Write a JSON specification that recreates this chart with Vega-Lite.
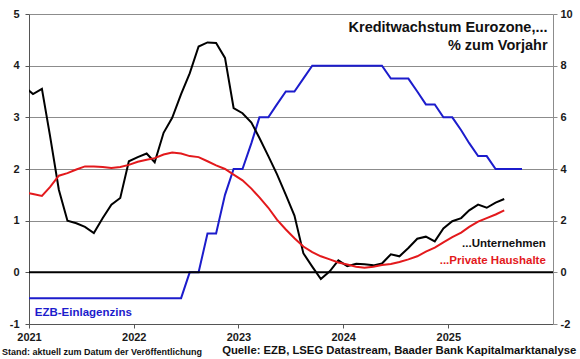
{
  "$schema": "https://vega.github.io/schema/vega-lite/v6.json",
  "width": 524,
  "height": 310,
  "autosize": {"type": "none"},
  "padding": {"left": 29, "top": 14, "right": 27, "bottom": 35},
  "background": "white",
  "config": {
    "view": {"stroke": null},
    "font": "Liberation Sans",
    "axis": {"labelFont": "Liberation Sans", "labelFontWeight": "bold", "labelFontSize": 11, "labelColor": "#1a1a1a", "title": null}
  },
  "datasets": {
    "one": [{}],
    "rate": [
      {"date": "2020-12-15", "value": -0.5},
      {"date": "2021-01-15", "value": -0.5}, {"date": "2021-02-15", "value": -0.5}, {"date": "2021-03-15", "value": -0.5},
      {"date": "2021-04-15", "value": -0.5}, {"date": "2021-05-15", "value": -0.5}, {"date": "2021-06-15", "value": -0.5},
      {"date": "2021-07-15", "value": -0.5}, {"date": "2021-08-15", "value": -0.5}, {"date": "2021-09-15", "value": -0.5},
      {"date": "2021-10-15", "value": -0.5}, {"date": "2021-11-15", "value": -0.5}, {"date": "2021-12-15", "value": -0.5},
      {"date": "2022-01-15", "value": -0.5}, {"date": "2022-02-15", "value": -0.5}, {"date": "2022-03-15", "value": -0.5},
      {"date": "2022-04-15", "value": -0.5}, {"date": "2022-05-15", "value": -0.5}, {"date": "2022-06-15", "value": -0.5},
      {"date": "2022-07-15", "value": 0}, {"date": "2022-08-15", "value": 0}, {"date": "2022-09-15", "value": 0.75},
      {"date": "2022-10-15", "value": 0.75}, {"date": "2022-11-15", "value": 1.5}, {"date": "2022-12-15", "value": 2.0},
      {"date": "2023-01-15", "value": 2.0}, {"date": "2023-02-15", "value": 2.5}, {"date": "2023-03-15", "value": 3.0},
      {"date": "2023-04-15", "value": 3.0}, {"date": "2023-05-15", "value": 3.25}, {"date": "2023-06-15", "value": 3.5},
      {"date": "2023-07-15", "value": 3.5}, {"date": "2023-08-15", "value": 3.75}, {"date": "2023-09-15", "value": 4.0},
      {"date": "2023-10-15", "value": 4.0}, {"date": "2023-11-15", "value": 4.0}, {"date": "2023-12-15", "value": 4.0},
      {"date": "2024-01-15", "value": 4.0}, {"date": "2024-02-15", "value": 4.0}, {"date": "2024-03-15", "value": 4.0},
      {"date": "2024-04-15", "value": 4.0}, {"date": "2024-05-15", "value": 4.0}, {"date": "2024-06-15", "value": 3.75},
      {"date": "2024-07-15", "value": 3.75}, {"date": "2024-08-15", "value": 3.75}, {"date": "2024-09-15", "value": 3.5},
      {"date": "2024-10-15", "value": 3.25}, {"date": "2024-11-15", "value": 3.25}, {"date": "2024-12-15", "value": 3.0},
      {"date": "2025-01-15", "value": 3.0}, {"date": "2025-02-15", "value": 2.75}, {"date": "2025-03-15", "value": 2.5},
      {"date": "2025-04-15", "value": 2.25}, {"date": "2025-05-15", "value": 2.25}, {"date": "2025-06-15", "value": 2.0},
      {"date": "2025-07-15", "value": 2.0}, {"date": "2025-08-15", "value": 2.0}, {"date": "2025-09-15", "value": 2.0}
    ],
    "credit": [
      {"date": "2020-12-15", "series": "Unternehmen", "value": 7.2},
      {"date": "2021-01-15", "series": "Unternehmen", "value": 6.9},
      {"date": "2021-02-15", "series": "Unternehmen", "value": 7.1},
      {"date": "2021-03-15", "series": "Unternehmen", "value": 5.3},
      {"date": "2021-04-15", "series": "Unternehmen", "value": 3.2},
      {"date": "2021-05-15", "series": "Unternehmen", "value": 2.0},
      {"date": "2021-06-15", "series": "Unternehmen", "value": 1.9},
      {"date": "2021-07-15", "series": "Unternehmen", "value": 1.76},
      {"date": "2021-08-15", "series": "Unternehmen", "value": 1.52},
      {"date": "2021-09-15", "series": "Unternehmen", "value": 2.1},
      {"date": "2021-10-15", "series": "Unternehmen", "value": 2.62},
      {"date": "2021-11-15", "series": "Unternehmen", "value": 2.88},
      {"date": "2021-12-15", "series": "Unternehmen", "value": 4.3},
      {"date": "2022-01-15", "series": "Unternehmen", "value": 4.46},
      {"date": "2022-02-15", "series": "Unternehmen", "value": 4.6},
      {"date": "2022-03-15", "series": "Unternehmen", "value": 4.26},
      {"date": "2022-04-15", "series": "Unternehmen", "value": 5.4},
      {"date": "2022-05-15", "series": "Unternehmen", "value": 5.98},
      {"date": "2022-06-15", "series": "Unternehmen", "value": 6.9},
      {"date": "2022-07-15", "series": "Unternehmen", "value": 7.7},
      {"date": "2022-08-15", "series": "Unternehmen", "value": 8.74},
      {"date": "2022-09-15", "series": "Unternehmen", "value": 8.9},
      {"date": "2022-10-15", "series": "Unternehmen", "value": 8.88},
      {"date": "2022-11-15", "series": "Unternehmen", "value": 8.3},
      {"date": "2022-12-15", "series": "Unternehmen", "value": 6.36},
      {"date": "2023-01-15", "series": "Unternehmen", "value": 6.16},
      {"date": "2023-02-15", "series": "Unternehmen", "value": 5.8},
      {"date": "2023-03-15", "series": "Unternehmen", "value": 5.2},
      {"date": "2023-04-15", "series": "Unternehmen", "value": 4.5},
      {"date": "2023-05-15", "series": "Unternehmen", "value": 3.8},
      {"date": "2023-06-15", "series": "Unternehmen", "value": 3.0},
      {"date": "2023-07-15", "series": "Unternehmen", "value": 2.2},
      {"date": "2023-08-15", "series": "Unternehmen", "value": 0.74},
      {"date": "2023-09-15", "series": "Unternehmen", "value": 0.22},
      {"date": "2023-10-15", "series": "Unternehmen", "value": -0.26},
      {"date": "2023-11-15", "series": "Unternehmen", "value": 0.04},
      {"date": "2023-12-15", "series": "Unternehmen", "value": 0.46},
      {"date": "2024-01-15", "series": "Unternehmen", "value": 0.24},
      {"date": "2024-02-15", "series": "Unternehmen", "value": 0.33},
      {"date": "2024-03-15", "series": "Unternehmen", "value": 0.31},
      {"date": "2024-04-15", "series": "Unternehmen", "value": 0.27},
      {"date": "2024-05-15", "series": "Unternehmen", "value": 0.34},
      {"date": "2024-06-15", "series": "Unternehmen", "value": 0.7},
      {"date": "2024-07-15", "series": "Unternehmen", "value": 0.62},
      {"date": "2024-08-15", "series": "Unternehmen", "value": 0.94},
      {"date": "2024-09-15", "series": "Unternehmen", "value": 1.3},
      {"date": "2024-10-15", "series": "Unternehmen", "value": 1.38},
      {"date": "2024-11-15", "series": "Unternehmen", "value": 1.2},
      {"date": "2024-12-15", "series": "Unternehmen", "value": 1.7},
      {"date": "2025-01-15", "series": "Unternehmen", "value": 1.98},
      {"date": "2025-02-15", "series": "Unternehmen", "value": 2.1},
      {"date": "2025-03-15", "series": "Unternehmen", "value": 2.4},
      {"date": "2025-04-15", "series": "Unternehmen", "value": 2.62},
      {"date": "2025-05-15", "series": "Unternehmen", "value": 2.5},
      {"date": "2025-06-15", "series": "Unternehmen", "value": 2.7},
      {"date": "2025-07-15", "series": "Unternehmen", "value": 2.84},
      {"date": "2020-12-15", "series": "Private Haushalte", "value": 3.1},
      {"date": "2021-01-15", "series": "Private Haushalte", "value": 3.03},
      {"date": "2021-02-15", "series": "Private Haushalte", "value": 2.96},
      {"date": "2021-03-15", "series": "Private Haushalte", "value": 3.3},
      {"date": "2021-04-15", "series": "Private Haushalte", "value": 3.74},
      {"date": "2021-05-15", "series": "Private Haushalte", "value": 3.84},
      {"date": "2021-06-15", "series": "Private Haushalte", "value": 3.98},
      {"date": "2021-07-15", "series": "Private Haushalte", "value": 4.1},
      {"date": "2021-08-15", "series": "Private Haushalte", "value": 4.1},
      {"date": "2021-09-15", "series": "Private Haushalte", "value": 4.08},
      {"date": "2021-10-15", "series": "Private Haushalte", "value": 4.04},
      {"date": "2021-11-15", "series": "Private Haushalte", "value": 4.08},
      {"date": "2021-12-15", "series": "Private Haushalte", "value": 4.16},
      {"date": "2022-01-15", "series": "Private Haushalte", "value": 4.28},
      {"date": "2022-02-15", "series": "Private Haushalte", "value": 4.36},
      {"date": "2022-03-15", "series": "Private Haushalte", "value": 4.42},
      {"date": "2022-04-15", "series": "Private Haushalte", "value": 4.56},
      {"date": "2022-05-15", "series": "Private Haushalte", "value": 4.64},
      {"date": "2022-06-15", "series": "Private Haushalte", "value": 4.6},
      {"date": "2022-07-15", "series": "Private Haushalte", "value": 4.5},
      {"date": "2022-08-15", "series": "Private Haushalte", "value": 4.46},
      {"date": "2022-09-15", "series": "Private Haushalte", "value": 4.3},
      {"date": "2022-10-15", "series": "Private Haushalte", "value": 4.14},
      {"date": "2022-11-15", "series": "Private Haushalte", "value": 4.0},
      {"date": "2022-12-15", "series": "Private Haushalte", "value": 3.78},
      {"date": "2023-01-15", "series": "Private Haushalte", "value": 3.56},
      {"date": "2023-02-15", "series": "Private Haushalte", "value": 3.24},
      {"date": "2023-03-15", "series": "Private Haushalte", "value": 2.9},
      {"date": "2023-04-15", "series": "Private Haushalte", "value": 2.5},
      {"date": "2023-05-15", "series": "Private Haushalte", "value": 2.04},
      {"date": "2023-06-15", "series": "Private Haushalte", "value": 1.66},
      {"date": "2023-07-15", "series": "Private Haushalte", "value": 1.32},
      {"date": "2023-08-15", "series": "Private Haushalte", "value": 1.0},
      {"date": "2023-09-15", "series": "Private Haushalte", "value": 0.78},
      {"date": "2023-10-15", "series": "Private Haushalte", "value": 0.62},
      {"date": "2023-11-15", "series": "Private Haushalte", "value": 0.5},
      {"date": "2023-12-15", "series": "Private Haushalte", "value": 0.38},
      {"date": "2024-01-15", "series": "Private Haushalte", "value": 0.3},
      {"date": "2024-02-15", "series": "Private Haushalte", "value": 0.22},
      {"date": "2024-03-15", "series": "Private Haushalte", "value": 0.18},
      {"date": "2024-04-15", "series": "Private Haushalte", "value": 0.22},
      {"date": "2024-05-15", "series": "Private Haushalte", "value": 0.28},
      {"date": "2024-06-15", "series": "Private Haushalte", "value": 0.32},
      {"date": "2024-07-15", "series": "Private Haushalte", "value": 0.4},
      {"date": "2024-08-15", "series": "Private Haushalte", "value": 0.5},
      {"date": "2024-09-15", "series": "Private Haushalte", "value": 0.62},
      {"date": "2024-10-15", "series": "Private Haushalte", "value": 0.8},
      {"date": "2024-11-15", "series": "Private Haushalte", "value": 0.96},
      {"date": "2024-12-15", "series": "Private Haushalte", "value": 1.16},
      {"date": "2025-01-15", "series": "Private Haushalte", "value": 1.36},
      {"date": "2025-02-15", "series": "Private Haushalte", "value": 1.54},
      {"date": "2025-03-15", "series": "Private Haushalte", "value": 1.76},
      {"date": "2025-04-15", "series": "Private Haushalte", "value": 1.96},
      {"date": "2025-05-15", "series": "Private Haushalte", "value": 2.1},
      {"date": "2025-06-15", "series": "Private Haushalte", "value": 2.24},
      {"date": "2025-07-15", "series": "Private Haushalte", "value": 2.4}
    ]
  },
  "layer": [
    {
      "layer": [
        {
          "data": {"name": "rate"},
          "mark": {"type": "line", "color": "#1c1ccc", "strokeWidth": 2, "clip": true, "interpolate": "linear"},
          "encoding": {
            "x": {
              "field": "date", "type": "temporal",
              "scale": {"domain": [{"year": 2021, "month": 1, "date": 1}, {"year": 2026, "month": 1, "date": 1}]},
              "axis": {
                "values": [{"year": 2021, "month": 1, "date": 1}, {"year": 2022, "month": 1, "date": 1}, {"year": 2023, "month": 1, "date": 1}, {"year": 2024, "month": 1, "date": 1}, {"year": 2025, "month": 1, "date": 1}],
                "format": "%Y", "grid": false, "domainColor": "#555555", "tickColor": "#555555",
                "tickSize": 4, "labelPadding": 3, "labelFlush": false, "labelAlign": "center"
              }
            },
            "y": {
              "field": "value", "type": "quantitative",
              "scale": {"domain": [-1, 5], "nice": false, "zero": false},
              "axis": {
                "values": [-1, 0, 1, 2, 3, 4, 5], "labelExpr": "'' + datum.value",
                "grid": true, "gridColor": "#8c8c8c", "gridWidth": 1,
                "domainColor": "#555555", "tickColor": "#555555", "tickSize": 4, "labelPadding": 6
              }
            }
          }
        },
        {
          "data": {"name": "one"},
          "mark": {"type": "rule", "color": "#000000", "strokeWidth": 2},
          "encoding": {"y": {"datum": 0, "type": "quantitative"}}
        },
        {
          "data": {"name": "one"},
          "mark": {"type": "text", "text": "Kreditwachstum Eurozone,...", "align": "right", "baseline": "middle", "font": "Liberation Sans", "fontWeight": "bold", "fontSize": 14.5, "color": "#111111"},
          "encoding": {"x": {"datum": {"year": 2025, "month": 12, "date": 13}, "type": "temporal"}, "y": {"datum": 4.73, "type": "quantitative"}}
        },
        {
          "data": {"name": "one"},
          "mark": {"type": "text", "text": "% zum Vorjahr", "align": "right", "baseline": "middle", "font": "Liberation Sans", "fontWeight": "bold", "fontSize": 14.5, "color": "#111111"},
          "encoding": {"x": {"datum": {"year": 2025, "month": 12, "date": 13}, "type": "temporal"}, "y": {"datum": 4.38, "type": "quantitative"}}
        },
        {
          "data": {"name": "one"},
          "mark": {"type": "text", "text": "...Unternehmen", "align": "right", "baseline": "middle", "font": "Liberation Sans", "fontWeight": "bold", "fontSize": 11.5, "color": "#111111"},
          "encoding": {"x": {"datum": {"year": 2025, "month": 12, "date": 7}, "type": "temporal"}, "y": {"datum": 0.55, "type": "quantitative"}}
        },
        {
          "data": {"name": "one"},
          "mark": {"type": "text", "text": "...Private Haushalte", "align": "right", "baseline": "middle", "font": "Liberation Sans", "fontWeight": "bold", "fontSize": 11.5, "color": "#e3191c"},
          "encoding": {"x": {"datum": {"year": 2025, "month": 12, "date": 7}, "type": "temporal"}, "y": {"datum": 0.215, "type": "quantitative"}}
        },
        {
          "data": {"name": "one"},
          "mark": {"type": "text", "text": "EZB-Einlagenzins", "align": "left", "baseline": "middle", "font": "Liberation Sans", "fontWeight": "bold", "fontSize": 11.5, "color": "#1c1ccc"},
          "encoding": {"x": {"datum": {"year": 2021, "month": 1, "date": 21}, "type": "temporal"}, "y": {"datum": -0.79, "type": "quantitative"}}
        },
        {
          "data": {"name": "one"},
          "mark": {"type": "text", "text": "Stand: aktuell zum Datum der Veröffentlichung", "align": "left", "baseline": "middle", "font": "Liberation Sans", "fontWeight": "bold", "fontSize": 9, "color": "#111111"},
          "encoding": {"x": {"datum": {"year": 2020, "month": 9, "date": 29}, "type": "temporal"}, "y": {"datum": -1.546, "type": "quantitative"}}
        },
        {
          "data": {"name": "one"},
          "mark": {"type": "text", "text": "Quelle: EZB, LSEG Datastream, Baader Bank Kapitalmarktanalyse", "align": "right", "baseline": "middle", "font": "Liberation Sans", "fontWeight": "bold", "fontSize": 11.3, "color": "#111111"},
          "encoding": {"x": {"datum": {"year": 2026, "month": 3, "date": 23}, "type": "temporal"}, "y": {"datum": -1.52, "type": "quantitative"}}
        }
      ]
    },
    {
      "data": {"name": "credit"},
      "mark": {"type": "line", "strokeWidth": 2, "clip": true},
      "encoding": {
        "x": {"field": "date", "type": "temporal"},
        "y": {
          "field": "value", "type": "quantitative",
          "scale": {"domain": [-2, 10], "nice": false, "zero": false},
          "axis": {
            "orient": "right", "values": [-2, 0, 2, 4, 6, 8, 10], "labelExpr": "'' + datum.value",
            "grid": false, "domainColor": "#8c8c8c", "tickColor": "#8c8c8c", "tickSize": 4, "labelPadding": 3
          }
        },
        "color": {
          "field": "series", "type": "nominal",
          "scale": {"domain": ["Unternehmen", "Private Haushalte"], "range": ["#000000", "#e3191c"]},
          "legend": null
        },
        "order": {"field": "date", "type": "temporal"}
      }
    }
  ],
  "resolve": {"scale": {"y": "independent"}}
}
